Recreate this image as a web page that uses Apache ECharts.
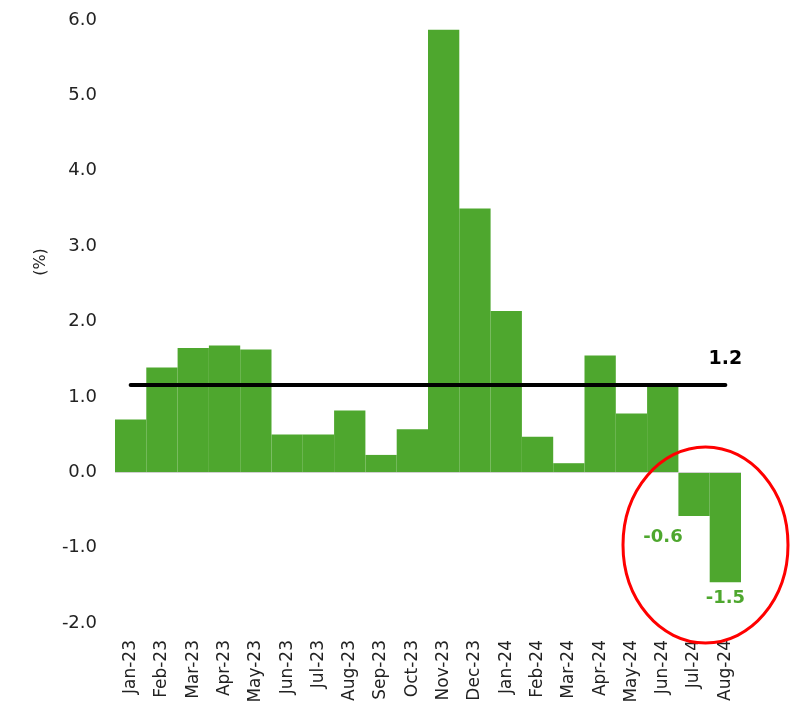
<!DOCTYPE html>
<html>
<head>
<meta charset="utf-8">
<script src="https://cdn.jsdelivr.net/npm/echarts@6/dist/echarts.min.js"></script>
<style>html,body{margin:0;padding:0;background:#fff}#c{width:793px;height:711px}</style>
</head>
<body>
<div id="c"></div>
<script>
const categories = ['Jan-23','Feb-23','Mar-23','Apr-23','May-23','Jun-23','Jul-23','Aug-23','Sep-23','Oct-23','Nov-23','Dec-23','Jan-24','Feb-24','Mar-24','Apr-24','May-24','Jun-24','Jul-24','Aug-24'];
const values = [0.70,1.39,1.65,1.68,1.63,0.50,0.50,0.82,0.23,0.57,5.87,3.50,2.14,0.47,0.12,1.55,0.78,1.15,-0.58,-1.46];
const averageValue = 1.16;
const averageLabel = '1.2';
const labelledIndices = [18, 19];
const yTicks = [-2, -1, 0, 1, 2, 3, 4, 5, 6];

const green = '#4ea72e';
const chart = echarts.init(document.getElementById('c'));

const barData = values.map((v, i) => {
  if (labelledIndices.indexOf(i) < 0) return v;
  return {
    value: v,
    label: {
      show: true,
      position: 'bottom',
      distance: i === 18 ? 12 : 7,
      offset: i === 18 ? [-31, 0] : [0, 0],
      formatter: (Math.round(v * 10) / 10).toFixed(1),
      color: green,
      fontFamily: 'DejaVu Sans',
      fontWeight: 'bold',
      fontSize: 18
    }
  };
});

chart.setOption({
  animation: false,
  backgroundColor: '#fff',
  grid: { left: 115, right: 52, top: 20, bottom: 88 },
  xAxis: {
    type: 'category',
    data: categories,
    axisLine: { show: false },
    axisTick: { show: false },
    axisLabel: {
      rotate: 90,
      margin: 17,
      color: '#222',
      fontFamily: 'DejaVu Sans',
      fontSize: 17,
      interval: 0
    }
  },
  yAxis: {
    type: 'value',
    min: yTicks[0],
    max: yTicks[yTicks.length - 1],
    interval: 1,
    axisLine: { show: false },
    axisTick: { show: false },
    splitLine: { show: false },
    axisLabel: {
      margin: 18,
      color: '#222',
      fontFamily: 'DejaVu Sans',
      fontSize: 18,
      formatter: v => v.toFixed(1)
    }
  },
  series: [
    {
      type: 'bar',
      data: barData,
      barCategoryGap: '0%',
      itemStyle: { color: green },
      markLine: {
        silent: true,
        symbol: 'none',
        label: { show: false },
        lineStyle: { color: '#d0d0d0', width: 1, type: 'solid' },
        data: [{ yAxis: 0 }]
      },
      z: 2
    },
    {
      type: 'line',
      data: [],
      markLine: {
        silent: true,
        symbol: 'none',
        lineStyle: { color: '#000', width: 4, type: 'solid', cap: 'round' },
        label: { show: false },
        data: [[
          { coord: [categories[0], averageValue] },
          { coord: [categories[categories.length - 1], averageValue] }
        ]]
      },
      z: 5
    },
    {
      type: 'scatter',
      data: [[categories[categories.length - 1], averageValue]],
      symbolSize: 0,
      silent: true,
      itemStyle: { opacity: 1, color: '#000' },
      label: {
        show: true,
        position: 'top',
        distance: 16,
        formatter: averageLabel,
        color: '#000',
        fontFamily: 'DejaVu Sans',
        fontWeight: 'bold',
        fontSize: 19
      },
      z: 6
    }
  ],
  graphic: [
    {
      type: 'text',
      x: 41, y: 262,
      rotation: Math.PI / 2,
      style: {
        text: '(%)',
        fill: '#222',
        font: '16px "DejaVu Sans"',
        textAlign: 'center',
        textVerticalAlign: 'middle'
      }
    },
    {
      type: 'ellipse',
      shape: { cx: 705.5, cy: 545, rx: 82.5, ry: 98 },
      style: { fill: 'none', stroke: '#ff0000', lineWidth: 3 },
      z: 10
    }
  ]
});
</script>
</body>
</html>
